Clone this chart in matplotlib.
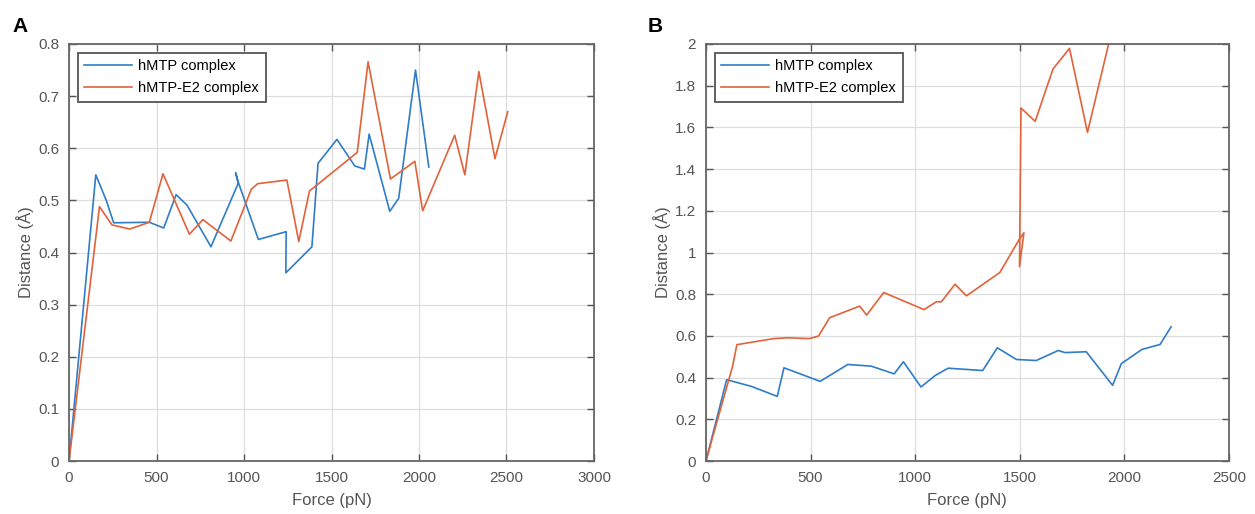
#!/usr/bin/env python3
"""
Force vs distance curves for the hMTP and hMTP-E2 complexes (panels A and B).
"""

import matplotlib
matplotlib.use("Agg")
import matplotlib.pyplot as plt
import matplotlib.ticker as mticker

# -- Panel A data --------------------------------------------------------------
a_force_hmtp = [0, 153, 214, 255, 459, 541, 612, 674, 811, 967, 952, 967, 1082,
                1241, 1239, 1388, 1423, 1531, 1633, 1688, 1715, 1833, 1884,
                1980, 2056]
a_dist_hmtp = [0, 0.549, 0.499, 0.457, 0.458, 0.447, 0.511, 0.491, 0.411,
               0.533, 0.553, 0.535, 0.425, 0.440, 0.361, 0.411, 0.571, 0.617,
               0.566, 0.560, 0.627, 0.479, 0.504, 0.750, 0.564]

a_force_e2 = [0, 174, 245, 347, 459, 537, 688, 765, 925, 1041, 1078, 1245,
              1313, 1374, 1470, 1647, 1709, 1837, 1976, 2021, 2204, 2262, 2342,
              2434, 2507]
a_dist_e2 = [0, 0.488, 0.453, 0.445, 0.458, 0.551, 0.435, 0.463, 0.422,
             0.521, 0.532, 0.539, 0.421, 0.518, 0.544, 0.592, 0.766, 0.541,
             0.575, 0.480, 0.625, 0.549, 0.747, 0.580, 0.670]

# -- Panel B data --------------------------------------------------------------
b_force_hmtp = [0, 99, 217, 341, 373, 546, 678, 790, 900, 944, 1028, 1097,
                1158, 1323, 1393, 1484, 1579, 1684, 1717, 1818, 1944, 1986,
                2084, 2171, 2224]
b_dist_hmtp = [0, 0.390, 0.358, 0.310, 0.447, 0.382, 0.463, 0.455, 0.418,
               0.476, 0.355, 0.411, 0.445, 0.434, 0.543, 0.487, 0.482, 0.530,
               0.520, 0.524, 0.363, 0.467, 0.535, 0.559, 0.644]

b_force_e2 = [0, 127, 148, 324, 395, 494, 538, 591, 735, 768, 850, 1043, 1102,
              1125, 1191, 1245, 1405, 1498, 1520, 1499, 1506, 1574, 1659,
              1738, 1824, 1925]
b_dist_e2 = [0, 0.453, 0.558, 0.587, 0.591, 0.587, 0.599, 0.687, 0.743,
             0.700, 0.808, 0.726, 0.764, 0.763, 0.848, 0.792, 0.904, 1.063,
             1.095, 0.932, 1.693, 1.629, 1.880, 1.979, 1.576, 2.0]

labels = ["hMTP complex", "hMTP-E2 complex"]
panel_letters = ["A", "B"]

BLUE = "#2F7DC8"
ORANGE = "#E2623A"
AXIS_GREY = "#555555"

plt.rcParams["font.family"] = ["Liberation Sans", "DejaVu Sans"]


def style_axes(ax, xmax, xstep, ymax, ystep):
    ax.set_xlim(0, xmax)
    ax.set_ylim(0, ymax)
    ax.set_xticks([i * xstep for i in range(int(round(xmax / xstep)) + 1)])
    ax.set_yticks([round(i * ystep, 3) for i in range(int(round(ymax / ystep)) + 1)])
    ax.yaxis.set_major_formatter(mticker.FormatStrFormatter("%g"))
    ax.xaxis.set_major_formatter(mticker.FormatStrFormatter("%g"))

    # MATLAB-ish box: ticks inside on all four sides
    ax.tick_params(direction="in", length=5, width=1.0, top=True, right=True,
                   colors=AXIS_GREY, labelsize=11, pad=7)
    for sp in ax.spines.values():
        sp.set_color("#666666")
        sp.set_linewidth(1.3)

    ax.grid(True, color="#dddddd", linewidth=0.9)
    ax.set_axisbelow(True)

    ax.set_xlabel("Force (pN)", fontsize=12, color=AXIS_GREY, labelpad=6)
    ax.set_ylabel("Distance (Å)", fontsize=12, color=AXIS_GREY, labelpad=3)

    leg = ax.legend(loc="upper left", fontsize=10.5, fancybox=False,
                    framealpha=1, edgecolor="#555555", handlelength=3.3,
                    handletextpad=0.4, labelspacing=0.55, borderpad=0.45,
                    borderaxespad=0.6)
    leg.get_frame().set_linewidth(1.3)


fig = plt.figure(figsize=(12.55, 5.14), dpi=100)
ax_a = fig.add_axes([0.0550, 0.1031, 0.4183, 0.8113])
ax_b = fig.add_axes([0.5625, 0.1031, 0.4167, 0.8113])

# -- Panel A -------------------------------------------------------------------
ax_a.plot(a_force_hmtp, a_dist_hmtp, color=BLUE, lw=1.2, label=labels[0])
ax_a.plot(a_force_e2, a_dist_e2, color=ORANGE, lw=1.2, label=labels[1])
style_axes(ax_a, 3000, 500, 0.8, 0.1)

# -- Panel B -------------------------------------------------------------------
ax_b.plot(b_force_hmtp, b_dist_hmtp, color=BLUE, lw=1.2, label=labels[0])
ax_b.plot(b_force_e2, b_dist_e2, color=ORANGE, lw=1.2, label=labels[1])
style_axes(ax_b, 2500, 500, 2.0, 0.2)

# -- Panel letters -------------------------------------------------------------
fig.text(12 / 1255, 1 - 32 / 514, panel_letters[0], fontsize=15,
         fontweight="bold", va="baseline", ha="left")
fig.text(648 / 1255, 1 - 32 / 514, panel_letters[1], fontsize=15,
         fontweight="bold", va="baseline", ha="left")

fig.savefig("out.png", dpi=100)
plt.close(fig)
